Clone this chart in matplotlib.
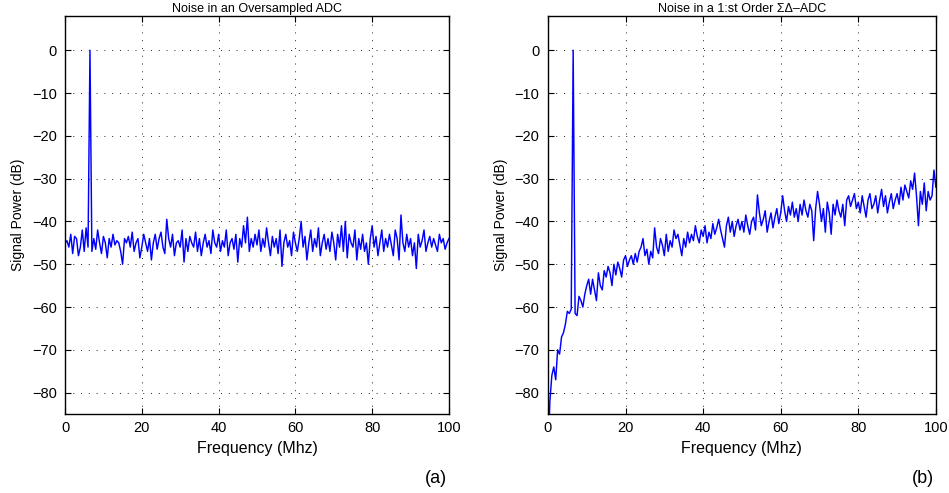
import numpy as np
import matplotlib.pyplot as plt

plt.rcParams['font.family'] = ['Liberation Sans', 'DejaVu Sans']

# spectrum values (dB), 0.5 MHz bins from 0 to 100 MHz
adc_db = [
    -45, -44.5, -46, -43, -47.5, -43.5, -44, -48, -46, -42,
    -47, -41.5, -46, 0, -47, -44, -46.5, -42, -45, -47.5,
    -43.5, -45, -48.5, -44, -46, -43, -45.5, -44.5, -45, -47,
    -50, -44, -45, -43.5, -46, -42.5, -47, -45, -44, -48.5,
    -46, -43, -45, -47, -44, -49, -45, -43, -46.5, -44,
    -42.5, -46, -47.5, -39.5, -44, -46, -43, -48, -45, -44.5,
    -46, -42, -49.5, -44, -47, -43.5, -45, -46, -42.5, -47,
    -44, -48, -45, -43, -46, -44.5, -47.5, -42, -45, -46,
    -43, -47, -44.5, -46, -42, -48, -45, -44, -46.5, -43,
    -49.5, -44, -46, -41, -45, -39, -47, -44, -46, -43,
    -45.5, -42, -47, -44, -46, -41.5, -45, -48, -43.5, -46,
    -44, -47.5, -42, -50.5, -45, -43, -46, -44.5, -48, -42.5,
    -45, -47, -44, -40, -46, -43.5, -49, -45, -42, -47,
    -44, -46, -41.5, -48, -45, -43, -46.5, -44, -47, -42.5,
    -45, -49, -43, -46, -41, -47, -40, -48.5, -43, -45,
    -46, -42, -49, -44, -46.5, -43, -47, -45, -50, -44,
    -41, -46, -43.5, -48, -45, -42, -47, -44, -46, -43,
    -45.5, -48, -42, -44, -49, -38.5, -45, -47, -43, -46,
    -44, -48, -45, -51, -43, -46, -44.5, -42, -47, -45,
    -43.5, -46, -44, -45.5, -47, -43, -45, -44, -46.5, -45,
    -44,
]

sd_db = [
    -95, -82, -76, -74, -77, -70, -71, -67, -66, -64,
    -61, -61.5, -60.5, 0, -61.5, -62, -57.5, -58.5, -60, -57,
    -55, -53.5, -57, -53.5, -56, -58.5, -52, -55, -56, -51.5,
    -53, -50.5, -52, -55, -50, -52.5, -49.5, -51, -53, -49,
    -48, -50.5, -49, -48, -50, -47.5, -49.5, -47, -46, -44,
    -48, -46.5, -50, -47, -48.5, -41.5, -46, -47.5, -44, -45.5,
    -48, -43, -47, -44.5, -46, -42, -44, -43, -45.5, -48,
    -44, -46, -42.5, -45, -43, -44.5, -41, -43.5, -45, -42,
    -43.5, -41, -45, -42.5, -44, -40.5, -43, -41.5, -39.5, -42,
    -44, -46, -41, -39, -42.5, -40, -43.5, -41, -39.5, -42,
    -40, -42.5, -38.5, -41, -43, -40, -39, -42, -33.8, -38,
    -41, -39.5, -37.5, -42.5, -40, -38, -41.5, -39, -37, -40.5,
    -38, -34, -37.5, -40, -36.5, -38.5, -35.5, -39, -37, -40,
    -36, -38.5, -35, -37.5, -39, -36, -37.5, -44.5, -37, -33,
    -36, -40, -37, -42.5, -35.5, -38, -43, -36, -38.5, -35,
    -37.5, -39, -36, -41, -35, -34, -36.5, -35, -33.5, -37,
    -35.5, -38, -34, -36.5, -39, -35, -33.5, -37, -36, -34,
    -38, -35, -32.5, -36.5, -34, -38, -35.5, -33.5, -37, -35,
    -33.5, -36, -32, -35, -31.5, -33, -34.5, -30.5, -32.5, -28.7,
    -34, -41, -33, -36, -31, -37.5, -33, -35, -34, -28,
    -32,
]

freq = np.linspace(0, 100, len(adc_db))

titles = ['Noise in an Oversampled ADC', 'Noise in a 1:st Order ΣΔ–ADC']
tags = ['(a)', '(b)']
series = [adc_db, sd_db]

fig = plt.figure(figsize=(9.49, 4.93), dpi=100)
boxes = [[0.0685, 0.1602, 0.4046, 0.8073], [0.5774, 0.1602, 0.4088, 0.8073]]

for box, y, title, tag in zip(boxes, series, titles, tags):
    ax = fig.add_axes(box)
    ax.plot(freq, y, color='blue', lw=1.05)
    ax.set_xlim(0, 100)
    ax.set_ylim(-85, 8)
    ax.set_xticks(np.arange(0, 101, 20))
    ax.set_yticks(np.arange(-80, 1, 10))
    ax.grid(True, color='#222222', linestyle=(0, (1, 7)), linewidth=0.7)
    ax.tick_params(direction='in', top=True, right=True, length=4, labelsize=10.5)
    ax.tick_params(axis='x', pad=5)
    ax.tick_params(axis='y', pad=6)
    for s in ax.spines.values():
        s.set_linewidth(1.0)
    ax.set_title(title, fontsize=9, pad=3)
    ax.set_xlabel('Frequency (Mhz)', fontsize=11.5, labelpad=4)
    ax.set_ylabel('Signal Power (dB)', fontsize=10, labelpad=5)
    fig.text(box[0] + box[2] - 0.002, 0.03, tag, ha='right', va='center', fontsize=13)

fig.savefig('out.png', dpi=100)
